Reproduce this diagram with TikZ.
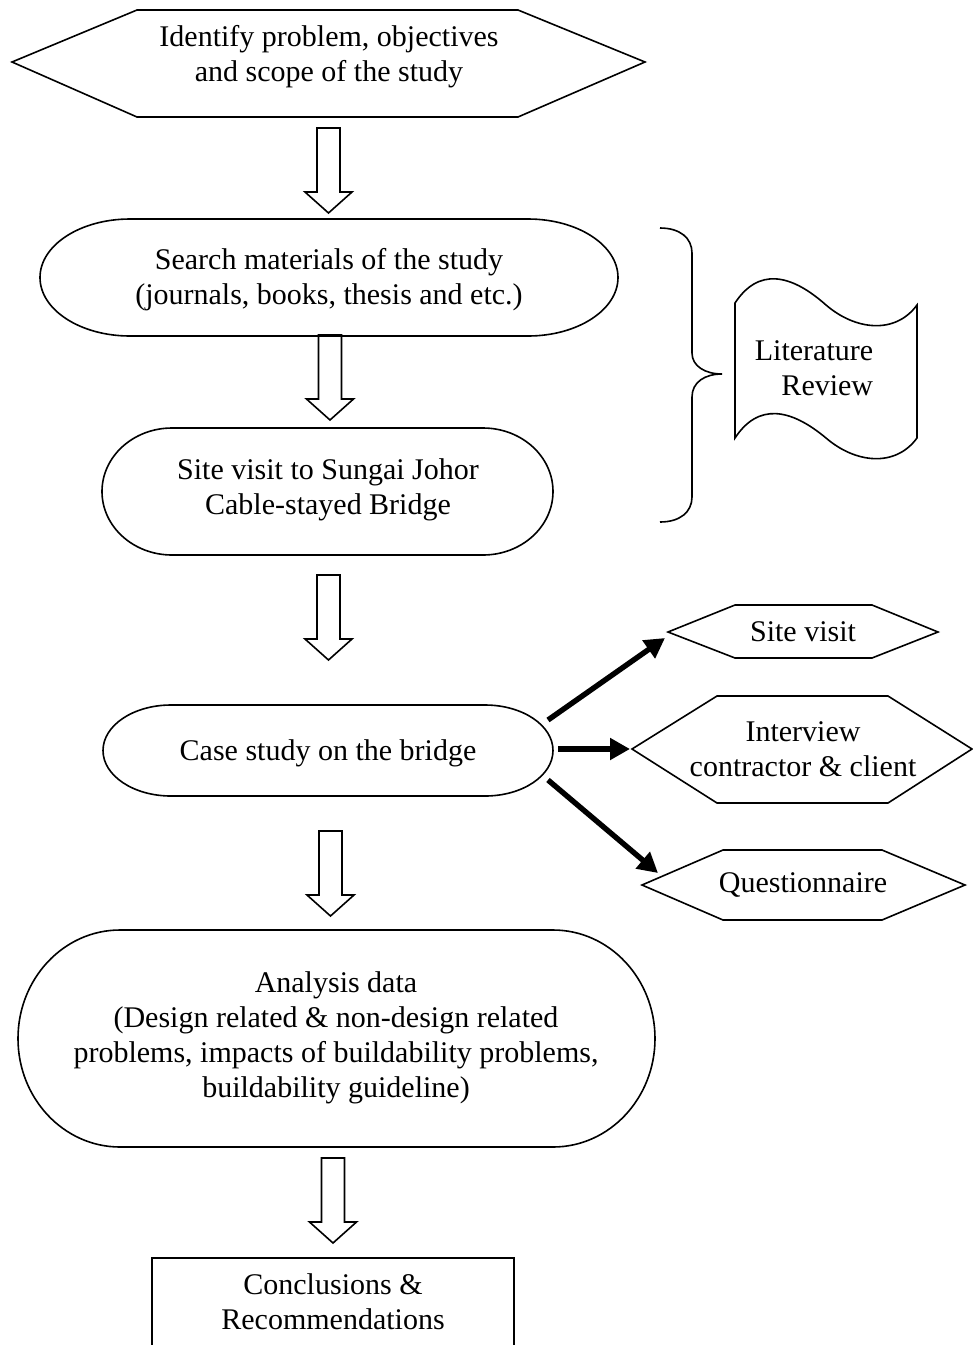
\documentclass[tikz,border=0pt]{standalone}
\usepackage{fontspec}
\setmainfont{Liberation Serif}
\usetikzlibrary{arrows.meta}
\tikzset{
 thinline/.style={line width=0.8pt, line join=miter},
 lbl/.style={font=\fontsize{15pt}{17.5pt}\selectfont, align=center, inner sep=0pt},
 boldarrow/.style={line width=2.7pt, -{Triangle[length=10pt,width=10.5pt]}},
 harrow/.pic={\draw[thinline,fill=white] (-11.5,0) -- (11.5,0) -- (11.5,-64) -- (23.5,-64) -- (0,-85) -- (-23.5,-64) -- (-11.5,-64) -- cycle;}
}
\newcommand\termpath[5]{%
 \draw[thinline] ({#1+#5},{-#2}) -- ({#3-#5},{-#2})
   arc[start angle=90,end angle=-90,x radius=#5,y radius={(#4-#2)/2}]
   -- ({#1+#5},{-#4})
   arc[start angle=270,end angle=90,x radius=#5,y radius={(#4-#2)/2}] -- cycle;}
\begin{document}
\begin{tikzpicture}[x=0.5pt,y=0.5pt]
\useasboundingbox (0,0) rectangle (973,-1345);
\clip (0,0) rectangle (973,-1345);
\fill[white] (0,0) rectangle (973,-1345);

% top hexagon
\draw[thinline] (12,-62) -- (137,-10) -- (518,-10) -- (645,-62) -- (518,-117) -- (137,-117) -- cycle;
\node[lbl] (top) at (329,-57) {Identify problem, objectives\\and scope of the study};

% hollow arrows
\pic at (328.5,-128) {harrow};
\pic at (330,-335) {harrow};
\pic at (328.5,-575) {harrow};
\pic at (330.5,-831) {harrow};
\pic at (333,-1158) {harrow};

% search
\termpath{40}{219}{618}{336}{90}
\node[lbl] (search) at (329,-280) {Search materials of the study\\(journals, books, thesis and etc.)};

% site visit
\termpath{102}{428}{553}{555}{70}
\node[lbl] (site) at (328,-490) {Site visit to Sungai Johor\\Cable-stayed Bridge};

% brace
\draw[thinline] (660,-228) .. controls (680,-228) and (692,-238) .. (692,-253) -- (692,-353)
  .. controls (692,-366) and (705,-374) .. (722,-374)
  .. controls (705,-374) and (692,-382) .. (692,-397) -- (692,-497)
  .. controls (692,-512) and (680,-522) .. (660,-522);

% literature review document
\draw[thinline] (735,-303) .. controls (758,-268) and (790,-273) .. (826,-305)
  .. controls (855,-330) and (895,-335) .. (917,-305) -- (917,-438)
  .. controls (895,-468) and (855,-463) .. (826,-438)
  .. controls (790,-408) and (758,-403) .. (735,-438) -- cycle;
\node[lbl, align=right] (lit) at (814,-368) {Literature\\Review};

% case study
\termpath{103}{705}{553}{796}{68}
\node[lbl] (case) at (328,-753) {Case study on the bridge};

% right hexagons
\draw[thinline] (668,-632) -- (735,-605) -- (872,-605) -- (938,-632) -- (872,-658) -- (735,-658) -- cycle;
\node[lbl] (sv) at (803,-632) {Site visit};
\draw[thinline] (632,-749) -- (717,-696) -- (888,-696) -- (972,-749) -- (888,-803) -- (717,-803) -- cycle;
\node[lbl] (iv) at (803,-749) {Interview\\contractor \& client};
\draw[thinline] (642,-885) -- (723,-850) -- (882,-850) -- (965,-885) -- (882,-920) -- (723,-920) -- cycle;
\node[lbl] (qn) at (803,-885) {Questionnaire};

\coordinate (c1) at (548,-720);
\coordinate (c2) at (558,-749);
\coordinate (c3) at (548,-780);
\coordinate (svt) at (665,-638);
\coordinate (ivt) at (630,-749);
\coordinate (qnt) at (658,-873);
\draw[boldarrow] (c1) -- (svt);
\draw[boldarrow] (c2) -- (ivt);
\draw[boldarrow] (c3) -- (qnt);

% analysis
\termpath{18}{930}{655}{1147}{102}
\node[lbl] (anal) at (336,-1038) {Analysis data\\(Design related \& non-design related\\problems, impacts of buildability problems,\\buildability guideline)};

% conclusions
\draw[thinline] (152,-1360) rectangle (514,-1258);
\node[lbl] (conc) at (333,-1302) {Conclusions \&\\Recommendations};
\end{tikzpicture}
\end{document}
